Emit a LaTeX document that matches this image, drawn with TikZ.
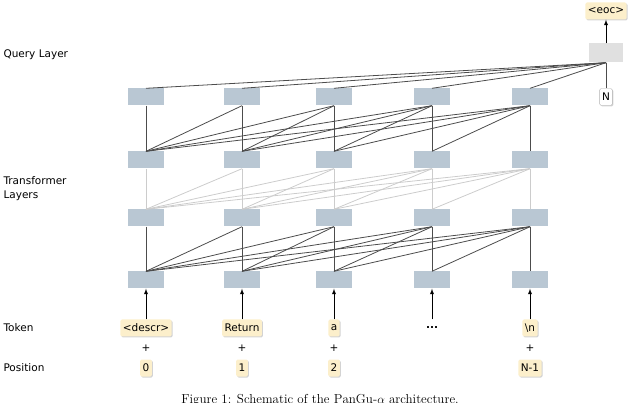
\documentclass[tikz,border=0pt]{standalone}
\usepackage{fontspec}
\setmainfont{DejaVu Sans}
\usetikzlibrary{shadows}
\definecolor{boxc}{HTML}{B9C7D3}
\definecolor{tokc}{HTML}{FCEFCB}
\begin{document}
\begin{tikzpicture}[x=1pt,y=-1pt,
 hid/.style={fill=boxc,minimum width=36pt,minimum height=17pt,inner sep=0},
 tok/.style={fill=tokc,rounded corners=1.5pt,font=\fontsize{10.5}{12}\selectfont,inner sep=2.5pt,minimum height=17pt,drop shadow={shadow xshift=1pt,shadow yshift=-1pt,opacity=0.35}},
 lab/.style={font=\fontsize{10.5}{14}\selectfont,anchor=west,align=left},
 att/.style={draw=black!70,line width=0.8pt},
 attg/.style={draw=black!20,line width=0.8pt},
 arr/.style={-latex,line width=0.9pt}]
\useasboundingbox (0,0) rectangle (640,403);
\foreach \c/\x in {1/146,2/242,3/334,4/432,5/530}{
 \foreach \r/\y in {1/97,2/160,3/218,4/280}{
  \node[hid] (h\r\c) at (\x,\y) {};
 }
}
\node[fill=black!12,minimum width=34pt,minimum height=19pt,inner sep=0] (q) at (606,53) {};
\node[tok] (eoc) at (606,11) {<eoc>};
\node[draw=black!30,fill=white,rounded corners=1.5pt,font=\fontsize{10.5}{12}\selectfont,inner sep=2.5pt,minimum height=17pt,drop shadow={shadow xshift=1pt,shadow yshift=-1pt,opacity=0.35}] (nn) at (606,97) {N};
\draw[arr] (q.north) -- (eoc.south);
\draw[att] (nn.north) -- (q.south);
\foreach \c in {1,...,5}{\draw[att] (q.south) -- (h1\c.north);}
% attention
\foreach \j in {1,...,5}{
 \foreach \i in {1,...,\j}{
  \draw[att] (h1\j.south) -- (h2\i.north);
  \draw[attg] (h2\j.south) -- (h3\i.north);
  \draw[att] (h3\j.south) -- (h4\i.north);
 }
}
% tokens
\node[tok] (t1) at (146,328) {<descr>};
\node[tok] (t2) at (242,328) {Return};
\node[tok] (t3) at (334,328) {a};
\node[font=\fontsize{10.5}{12}\selectfont\bfseries,minimum height=17pt] (t4) at (432,328) {...};
\node[tok] (t5) at (530,328) {\textbackslash n};
\draw[arr] (t1.north) -- (h41.south);
\draw[arr] (t2.north) -- (h42.south);
\draw[arr] (t3.north) -- (h43.south);
\draw[arr] (t4.north) -- (h44.south);
\draw[arr] (t5.north) -- (h45.south);
\foreach \x in {146,242,334,530}{\node[font=\fontsize{10.5}{12}\selectfont] at (\x,348) {+};}
\node[tok] (p1) at (146,368) {0};
\node[tok] (p2) at (242,368) {1};
\node[tok] (p3) at (334,368) {2};
\node[tok] (p5) at (530,368) {N-1};
\node[lab] (ql) at (0,55) {Query Layer};
\node[lab] (tl) at (0,189) {Transformer\\Layers};
\node[lab] (tkl) at (0,328) {Token};
\node[lab] (pl) at (0,368) {Position};
\node[font=\fontsize{13}{15}\selectfont,anchor=north] (cap) at (320,391) {\fontspec{Latin Modern Roman}Figure 1: Schematic of the P\textsc{an}G\textsc{u}-$\alpha$ architecture.};
\end{tikzpicture}
\end{document}
